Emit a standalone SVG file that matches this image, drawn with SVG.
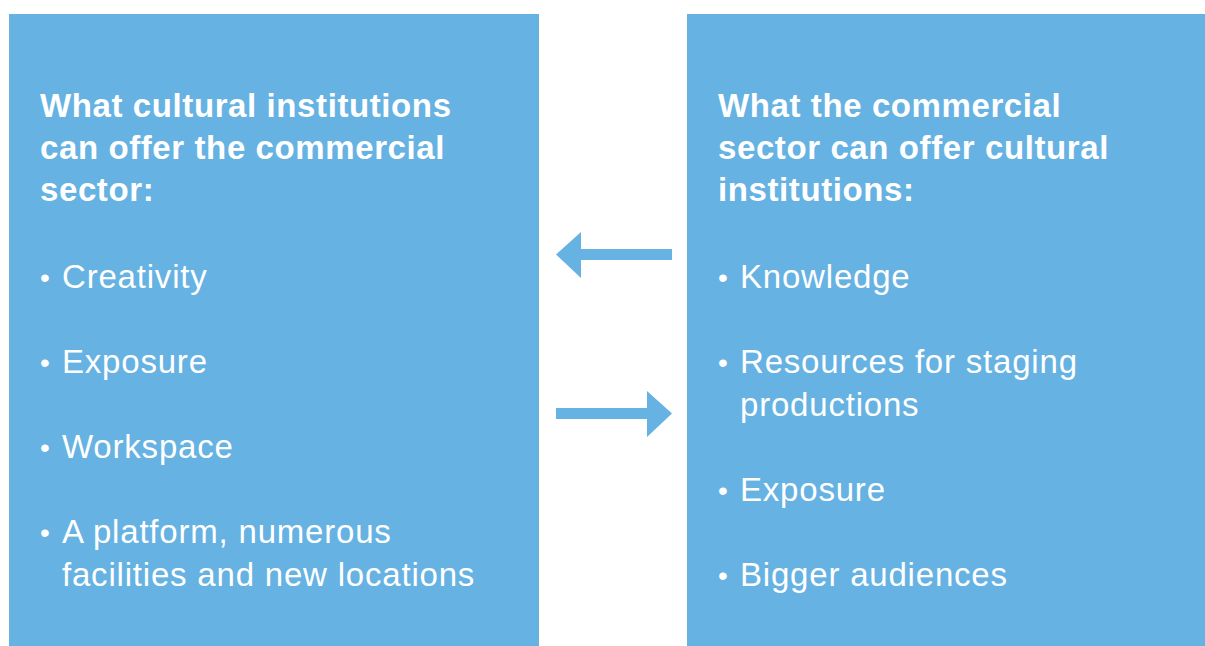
<svg xmlns="http://www.w3.org/2000/svg" width="1205" height="646" viewBox="0 0 1205 646">
<style>
.box{fill:#66b2e2}
.h{font-family:"Liberation Sans",Arial,sans-serif;font-weight:bold;font-size:33px;letter-spacing:0.6px;fill:#fff}
.t{font-family:"Liberation Sans",Arial,sans-serif;font-size:33px;letter-spacing:0.8px;fill:#fff}
.b{font-family:"Liberation Sans",Arial,sans-serif;font-size:28px;fill:#fff}
.arr{fill:#66b2e2}
</style>
<rect width="1205" height="646" fill="#fff"/>
<g id="left">
<rect class="box" x="9" y="14" width="530" height="632"/>
<text class="h" x="40" y="117">What cultural institutions</text>
<text class="h" x="40" y="159">can offer the commercial</text>
<text class="h" x="40" y="201">sector:</text>
<text class="b" x="40" y="287">•</text><text class="t" x="62" y="288">Creativity</text>
<text class="b" x="40" y="372">•</text><text class="t" x="62" y="373">Exposure</text>
<text class="b" x="40" y="457">•</text><text class="t" x="62" y="458">Workspace</text>
<text class="b" x="40" y="542">•</text><text class="t" x="62" y="543">A platform, numerous</text>
<text class="t" x="62" y="586">facilities and new locations</text>
</g>
<g id="right">
<rect class="box" x="687" y="14" width="518" height="632"/>
<text class="h" x="718" y="117">What the commercial</text>
<text class="h" x="718" y="159">sector can offer cultural</text>
<text class="h" x="718" y="201">institutions:</text>
<text class="b" x="718" y="287">•</text><text class="t" x="740" y="288">Knowledge</text>
<text class="b" x="718" y="372">•</text><text class="t" x="740" y="373">Resources for staging</text>
<text class="t" x="740" y="416">productions</text>
<text class="b" x="718" y="500">•</text><text class="t" x="740" y="501">Exposure</text>
<text class="b" x="718" y="585">•</text><text class="t" x="740" y="586">Bigger audiences</text>
</g>
<g id="connectors">
<polygon class="arr" points="672,249 581,249 581,232 556,254.5 581,278 581,260 672,260"/>
<polygon class="arr" points="556,408 647,408 647,391 672,413.5 647,437 647,419 556,419"/>
</g>
</svg>
